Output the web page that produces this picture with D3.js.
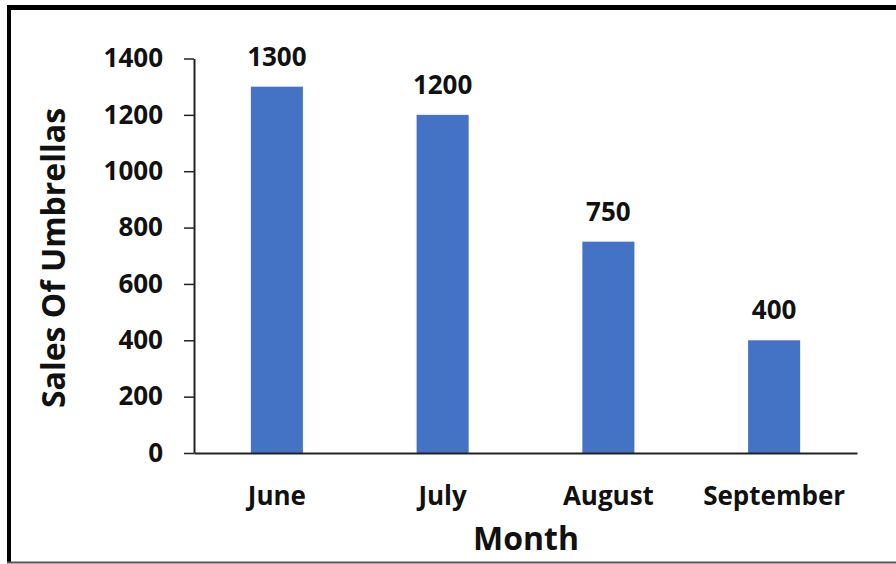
<!DOCTYPE html>
<html><head><meta charset="utf-8">
<script src="https://cdn.jsdelivr.net/npm/d3@7"></script>
<style>html,body{margin:0;padding:0;background:#fff;}svg{display:block;}</style>
</head><body>
<script>
const months = ["June", "July", "August", "September"];
const sales = [1300, 1200, 750, 400];
const yTicks = [0, 200, 400, 600, 800, 1000, 1200, 1400];
const xTitle = "Month";
const yTitle = "Sales Of Umbrellas";

(function () {
const W = 896, H = 564;
const font = "'Open Sans', Lato, sans-serif";
const svg = d3.select("body").append("svg").attr("width", W).attr("height", H);
svg.append("rect").attr("width", W).attr("height", H).attr("fill", "#fff");

// frame
svg.append("line").attr("x1", 7).attr("x2", W).attr("y1", 7.5).attr("y2", 7.5).attr("stroke", "#000").attr("stroke-width", 5);
svg.append("line").attr("x1", 9).attr("x2", 9).attr("y1", 5).attr("y2", 563).attr("stroke", "#000").attr("stroke-width", 4);
svg.append("line").attr("x1", 7).attr("x2", W).attr("y1", 562.5).attr("y2", 562.5).attr("stroke", "#555").attr("stroke-width", 2);

const pLeft = 194, pRight = 857, pTop = 58.5, pBottom = 453;
const x = d3.scaleBand().domain(months).range([pLeft, pRight]).paddingInner(0.686).paddingOuter(0.343);
const y = d3.scaleLinear().domain([0, 1400]).range([pBottom, pTop]);

// bars
svg.append("g").selectAll("rect").data(months).join("rect")
  .attr("x", d => x(d)).attr("width", x.bandwidth())
  .attr("y", (d, i) => y(sales[i])).attr("height", (d, i) => y(0) - y(sales[i]))
  .attr("fill", "#4472C4");

// value labels
svg.append("g").selectAll("text").data(months).join("text")
  .attr("x", d => x(d) + x.bandwidth() / 2).attr("y", (d, i) => y(sales[i]) - 21)
  .attr("text-anchor", "middle").attr("font-family", font).attr("font-weight", 700)
  .attr("font-size", 26).attr("fill", "#111").text((d, i) => sales[i]);

// y axis
const yAxis = svg.append("g").attr("transform", `translate(${pLeft},0)`)
  .call(d3.axisLeft(y).tickValues(yTicks).tickFormat(d3.format("d")).tickSize(10).tickPadding(21).tickSizeOuter(0));
yAxis.select(".domain").attr("stroke", "#222").attr("stroke-width", 2);
yAxis.selectAll(".tick line").attr("stroke", "#222").attr("stroke-width", 1.5);
yAxis.selectAll(".tick text").attr("font-family", font).attr("font-weight", 700).attr("font-size", 26).attr("fill", "#111");

// x axis
const xAxis = svg.append("g").attr("transform", `translate(0,${pBottom})`)
  .call(d3.axisBottom(x).tickSize(0).tickPadding(52).tickSizeOuter(0));
xAxis.select(".domain").attr("stroke", "#222").attr("stroke-width", 2);
xAxis.selectAll(".tick text").attr("font-family", font).attr("font-weight", 700).attr("font-size", 26).attr("fill", "#111").attr("dy", "0");

// titles
svg.append("text").attr("x", 526).attr("y", 550).attr("text-anchor", "middle")
  .attr("font-family", font).attr("font-weight", 700).attr("font-size", 32).attr("fill", "#111").text(xTitle);
svg.append("text").attr("transform", "translate(65,258) rotate(-90)").attr("text-anchor", "middle")
  .attr("font-family", font).attr("font-weight", 700).attr("font-size", 32).attr("fill", "#111").text(yTitle);
})();
</script>
</body></html>
